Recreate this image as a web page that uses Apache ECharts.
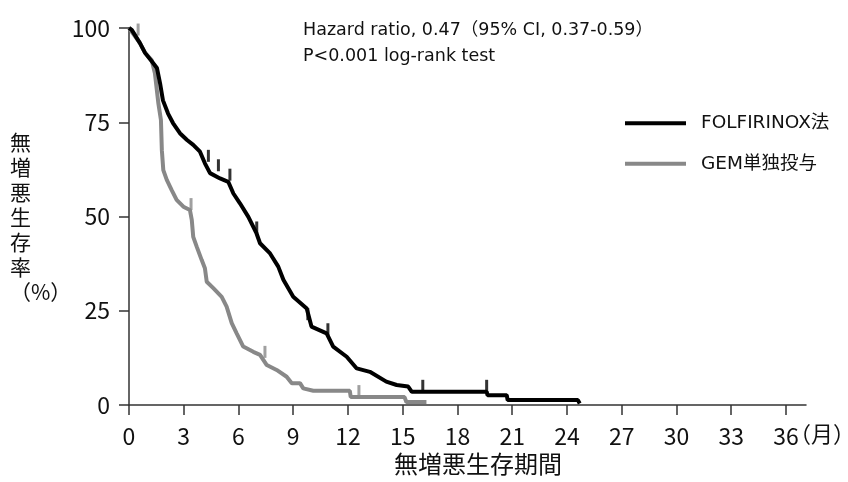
<!DOCTYPE html>
<html>
<head>
<meta charset="utf-8">
<script src="https://cdn.jsdelivr.net/npm/echarts@6/dist/echarts.min.js"></script>
<style>
html,body{margin:0;padding:0;background:#fff;}
#chart{width:848px;height:482px;}
</style>
</head>
<body>
<div id="chart"></div>
<script>
// ---- data ----
var seriesNames = ['FOLFIRINOX法', 'GEM単独投与'];
var xTicks = [0, 3, 6, 9, 12, 15, 18, 21, 24, 27, 30, 33, 36];
var yTicks = [0, 25, 50, 75, 100];

var folfTime = [0, 0.15, 0.6, 0.88, 1.32, 1.53, 1.7, 1.86, 2.14, 2.41, 2.79, 3.18, 3.52, 3.89, 4.16, 4.44, 4.99, 5.44, 5.72, 6.08, 6.54, 6.99, 7.18, 7.73, 8.18, 8.46, 9.0, 9.74, 10.0, 10.83, 11.19, 11.93, 12.48, 13.2, 14.1, 14.67, 15.3, 15.5, 19.6, 19.65, 20.7, 20.75, 24.6, 24.7];
var folfSurv = [100, 99.5, 96, 93.4, 90.7, 89.4, 85.4, 80.8, 77.3, 74.8, 72.1, 70.3, 69, 67.2, 64.1, 61.5, 60.1, 59.2, 56.1, 53.5, 49.9, 45.5, 42.9, 40.2, 36.7, 33.2, 28.7, 25.6, 20.8, 19, 15.5, 12.8, 9.7, 8.8, 6.2, 5.3, 4.9, 3.5, 3.5, 2.6, 2.6, 1.3, 1.3, 0.4];
var folfCensorTime = [4.35, 4.9, 5.53, 7.0, 9.8, 10.9, 16.1, 19.6];
var folfCensorSurv = [64.5, 62, 59.5, 45.5, 22.5, 18.5, 3.5, 3.5];

var gemTime = [0, 0.6, 0.88, 1.24, 1.42, 1.61, 1.75, 1.8, 1.88, 2.07, 2.34, 2.61, 2.98, 3.34, 3.44, 3.52, 3.71, 3.98, 4.16, 4.26, 4.62, 5.08, 5.35, 5.63, 5.9, 6.26, 6.81, 7.18, 7.55, 8.09, 8.64, 8.92, 9.37, 9.55, 10.1, 12.1, 12.15, 15.1, 15.2, 16.3];
var gemSurv = [100, 96, 93.4, 91.5, 88, 80, 75.6, 67.6, 62.3, 59.7, 57, 54.4, 52.6, 51.7, 49.1, 44.6, 42, 38.5, 36.3, 32.7, 31, 28.7, 26.1, 21.7, 19, 15.5, 14.1, 13.3, 10.6, 9.3, 7.5, 5.8, 5.8, 4.4, 3.8, 3.8, 2.1, 2.1, 0.8, 0.8];
var gemCensorTime = [0.5, 3.4, 7.45, 12.6];
var gemCensorSurv = [98, 51.7, 12.5, 2.1];

var statLines = ['Hazard ratio, 0.47（95% CI, 0.37-0.59）', 'P<0.001 log-rank test'];
var yAxisTitle = ['無', '増', '悪', '生', '存', '率', '（%）'];
var xAxisTitle = '無増悪生存期間';
var xUnit = '（月）';

function zip(a, b) { return a.map(function (v, i) { return [v, b[i]]; }); }

var NUMFONT = '"Liberation Sans Narrow", "Noto Sans CJK JP", sans-serif';
var TXTFONT = '"DejaVu Sans", "Noto Sans CJK JP", sans-serif';
var CJKFONT = '"Noto Sans CJK JP", sans-serif';
var colors = ['#000000', '#888888'];

var chart = echarts.init(document.getElementById('chart'), null, {renderer: 'canvas'});
chart.setOption({
  animation: false,
  backgroundColor: '#ffffff',
  grid: {left: 129, right: 42, top: 28, bottom: 77, containLabel: false},
  xAxis: {
    type: 'value', min: 0, max: 37.1, interval: 3,
    axisLine: {lineStyle: {color: '#333', width: 1.5}},
    axisTick: {length: 10, lineStyle: {color: '#333', width: 1.5}},
    splitLine: {show: false},
    axisLabel: {
      fontFamily: NUMFONT, fontSize: 23, color: '#111', margin: 20,
      formatter: function (v) { return xTicks.indexOf(v) >= 0 ? String(v) : ''; },
      showMaxLabel: false
    }
  },
  yAxis: {
    type: 'value', min: 0, max: 100, interval: 25,
    axisLine: {show: true, lineStyle: {color: '#333', width: 1.5}},
    axisTick: {show: true, length: 10, lineStyle: {color: '#333', width: 1.5}},
    splitLine: {show: false},
    axisLabel: {fontFamily: NUMFONT, fontSize: 23, color: '#111', margin: 19,
      formatter: function (v) { return yTicks.indexOf(v) >= 0 ? String(v) : ''; }}
  },
  legend: {
    data: seriesNames,
    orient: 'vertical', left: 620, top: 109, itemGap: 22,
    itemWidth: 61, itemHeight: 4, icon: 'rect',
    textStyle: {fontFamily: TXTFONT, fontSize: 18.5, color: '#111', padding: [0, 0, 0, 10]}
  },
  graphic: [
    {type: 'text', left: 303, top: 17, style: {text: statLines.join('\n'), font: '17.5px ' + TXTFONT, fill: '#111', lineHeight: 26}},
    {type: 'text', left: 10, top: 130, style: {text: yAxisTitle.join('\n'), font: '21px ' + CJKFONT, fill: '#111', lineHeight: 25, align: 'center', width: 44}},
    {type: 'text', left: 789, top: 423, style: {text: xUnit, font: '22px ' + CJKFONT, fill: '#111'}},
    {type: 'text', left: 394, top: 452, style: {text: xAxisTitle, font: '24px ' + CJKFONT, fill: '#111'}}
  ],
  series: [
    {name: seriesNames[1], type: 'line', data: zip(gemTime, gemSurv), showSymbol: false, symbol: 'none',
      lineStyle: {color: colors[1], width: 4}, itemStyle: {color: colors[1]}, z: 2},
    {name: seriesNames[0], type: 'line', data: zip(folfTime, folfSurv), showSymbol: false, symbol: 'none',
      lineStyle: {color: colors[0], width: 4}, itemStyle: {color: colors[0]}, z: 3},
    {type: 'scatter', data: zip(gemCensorTime, gemCensorSurv), symbol: 'rect', symbolSize: [3, 12], symbolOffset: [0, -6],
      itemStyle: {color: colors[1]}, silent: true, z: 2},
    {type: 'scatter', data: zip(folfCensorTime, folfCensorSurv), symbol: 'rect', symbolSize: [3, 12], symbolOffset: [0, -6],
      itemStyle: {color: colors[0]}, silent: true, z: 3}
  ]
});
</script>
</body>
</html>
